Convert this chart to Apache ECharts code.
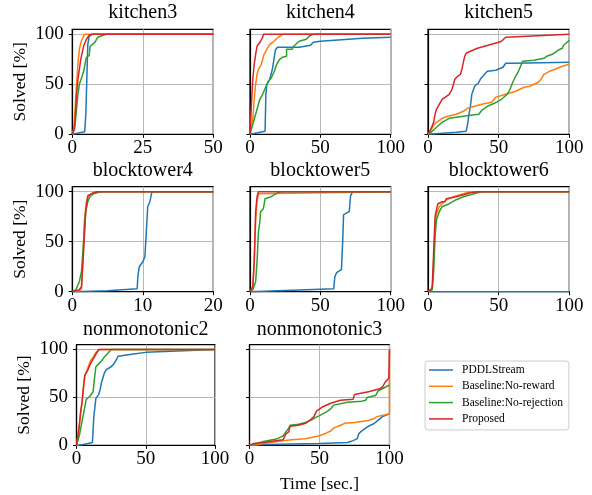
<!DOCTYPE html>
<html><head><meta charset="utf-8">
<script src="https://cdn.jsdelivr.net/npm/echarts@6/dist/echarts.min.js"></script>
<style>html,body{margin:0;padding:0;background:#fff}#c{width:592px;height:495px}</style>
</head><body><div id="c"></div>
<script>
// ---------- labels / categories ----------
const methods = ['PDDLStream', 'Baseline:No-reward', 'Baseline:No-rejection', 'Proposed'];
const panelTitles = ['kitchen3', 'kitchen4', 'kitchen5', 'blocktower4', 'blocktower5', 'blocktower6', 'nonmonotonic2', 'nonmonotonic3'];
const xMaxes = [50, 100, 100, 20, 100, 100, 100, 100];
const xIntervals = [25, 50, 50, 10, 50, 50, 50, 50];
const yTickValues = [0, 50, 100];
const yLabel = 'Solved [%]';
const xLabel = 'Time [sec.]';

// ---------- data: [time, solved %] ----------
const kitchen3_pddl = [[0,0],[4.4,2.5],[4.8,20],[5.2,60],[5.5,90],[6,98],[7,100],[50,100]];
const kitchen3_noreward = [[0,0],[0.5,5],[1,25],[1.5,50],[2,70],[2.5,85],[3.2,93],[3.8,97],[4.4,100],[50,100]];
const kitchen3_norej = [[0,0],[1,10],[2,40],[2.5,50],[3.5,58],[4.2,65],[4.5,70],[5,77],[6,79],[6.3,88],[7,90],[8,92],[9,97],[11,99],[12,100],[50,100]];
const kitchen3_prop = [[0,0],[0.8,5],[1.5,40],[2,55],[3,75],[4,88],[5,95],[6,99],[7,100],[50,100]];

const kitchen4_pddl = [[0,0],[10.7,3],[11.3,40],[12,50],[14,55],[15,60],[16,66],[17,75],[18,84],[19.5,87],[35,87],[43,89],[45,92],[50,93],[70,95],[80,96],[100,97]];
const kitchen4_noreward = [[0,0],[2,15],[3,35],[4,50],[5,60],[6,65],[8,70],[9,75],[10,80],[12,85],[14,90],[17,93],[20,97],[23,100],[100,100]];
const kitchen4_norej = [[0,0],[2,10],[3,15],[4,20],[5,25],[6,30],[7,35],[9,40],[12,50],[13,53],[15,56],[17,62],[19,70],[21,75],[23,77],[26,78],[26,85],[30,85],[31,88],[32,90],[35,93],[40,95],[42,98],[45,100],[100,100]];
const kitchen4_prop = [[0,0],[1,30],[2,55],[3,70],[4,80],[5,88],[7,92],[8,94],[9,97],[9.5,100],[100,100]];

const kitchen5_pddl = [[0,0],[10,1],[20,2],[27,3],[28,10],[29,20],[30,28],[31,40],[33,48],[35.5,51],[37,55],[40,60],[42,63],[48,64],[53,67],[55,71],[60,71],[100,72]];
const kitchen5_noreward = [[0,0],[2,4],[4,9],[6,12],[10,16],[14,18],[20,20],[25,23],[28,26],[33,28],[38,30],[45,32],[48,37],[55,40],[62,43],[68,47],[72,48],[78,52],[80,55],[82,60],[86,63],[90,65],[95,68],[100,70]];
const kitchen5_norej = [[0,0],[3,3],[6,7],[10,12],[15,16],[20,17],[25,18],[30,19],[36,20],[38,24],[42,28],[47,31],[52,35],[56,40],[58,45],[60,52],[62,58],[64,63],[67,73],[75,74],[82,76],[84,78],[88,80],[92,84],[95,86],[96,89],[100,94]];
const kitchen5_prop = [[0,0],[2,5],[4,12],[5,20],[6,25],[8,30],[10,35],[13,38],[15,40],[17,45],[18,50],[19,55],[21,58],[23,60],[24,65],[25,72],[26,78],[27,81],[30,83],[35,86],[40,88],[50,92],[52,93],[55,97],[70,98],[100,100]];

const blocktower4_pddl = [[0,0],[5,1],[9.2,3],[9.3,15],[9.5,25],[10,30],[10.3,35],[10.5,60],[10.7,85],[11,90],[11.3,100],[20,100]];
const blocktower4_noreward = [[0,0],[1,1],[1.3,3],[1.5,30],[1.7,70],[2,90],[2.3,96],[2.5,98],[3,99],[3.5,100],[20,100]];
const blocktower4_norej = [[0,0],[0.5,2],[1,10],[1.3,20],[1.6,50],[1.9,80],[2.2,90],[2.5,95],[3,98],[4,100],[20,100]];
const blocktower4_prop = [[0,0],[1,2],[1.3,5],[1.6,40],[1.9,80],[2.2,96],[2.5,97],[3,99],[3.5,100],[20,100]];

const blocktower5_pddl = [[0,0],[20,1],[40,2],[59.5,3],[60.3,15],[61.5,19],[65,22],[66,55],[66.5,77],[70.5,80],[71.5,96],[73,100],[100,100]];
const blocktower5_noreward = [[0,0],[2,5],[3,30],[4,70],[5,90],[6,98],[7,100],[100,100]];
const blocktower5_norej = [[0,0],[2,2],[4,10],[5,30],[6,60],[7,70],[7.5,80],[9.5,83],[10.7,93],[15,95],[20,99],[22,100],[100,100]];
const blocktower5_prop = [[0,0],[2,5],[3,30],[4,80],[5,95],[6,100],[100,100]];

const blocktower6_pddl = [[0,0],[100,0]];
const blocktower6_noreward = [[0,0],[3,3],[4,30],[5,65],[6,78],[8,85],[10,88],[13,92],[18,95],[25,98],[30,100],[100,100]];
const blocktower6_norej = [[0,0],[3,2],[4,20],[5,55],[6,72],[8,80],[10,85],[15,88],[20,92],[25,95],[30,97],[38,100],[100,100]];
const blocktower6_prop = [[0,0],[2,2],[3,5],[4,40],[5,75],[6,82],[7,88],[10,90],[12,90],[13,93],[20,95],[25,97],[30,99],[35,100],[100,100]];

const nonmonotonic2_pddl = [[0,0],[5,1],[11.5,3],[12.5,30],[14,49],[16,53],[17,58],[18,65],[20,75],[21.5,79],[25,82],[27,85],[29,90],[30,93],[40,95],[50,97],[100,100]];
const nonmonotonic2_noreward = [[0,0],[2,20],[3,35],[4,45],[5,60],[6,73],[8,80],[10,88],[12,92],[14,97],[17,100],[100,100]];
const nonmonotonic2_norej = [[0,0],[2,10],[4,25],[6,40],[7,48],[9.5,51],[12,56],[13,70],[14,82],[16,85],[18,88],[20,92],[22,95],[25,100],[100,100]];
const nonmonotonic2_prop = [[0,0],[2,20],[3,35],[4,45],[5,60],[6,73],[8,78],[10,85],[12,90],[14,95],[16,100],[100,100]];

const nonmonotonic3_pddl = [[0,0],[10,1],[30,1.5],[50,2],[70,3],[74,5],[77,7],[78,12],[80,15],[85,20],[88,22],[90,24],[95,30],[100,33]];
const nonmonotonic3_noreward = [[0,0],[10,2],[20,4],[30,6],[40,7],[50,10],[55,13],[58,15],[60,18],[65,21],[68,23],[75,24],[85,26],[89,28],[91,30],[100,33],[100,100]];
const nonmonotonic3_norej = [[0,0],[5,2],[10,4],[20,7],[24,10],[28,18],[29,21],[35,22],[40,24],[45,27],[47,29],[50,31],[55,35],[58,38],[60,42],[70,45],[80,46],[83,47],[84,50],[90,52],[92,57],[100,63]];
const nonmonotonic3_prop = [[0,0],[3,2],[10,3],[20,5],[24,6],[26,12],[28,14],[29,20],[35,21],[40,23],[43,26],[46,30],[48,36],[52,40],[58,44],[65,47],[74,48],[75,53],[85,56],[93,59],[95,61],[97,66],[99.5,70],[100,100]];

const panelData = [
  [kitchen3_pddl, kitchen3_noreward, kitchen3_norej, kitchen3_prop],
  [kitchen4_pddl, kitchen4_noreward, kitchen4_norej, kitchen4_prop],
  [kitchen5_pddl, kitchen5_noreward, kitchen5_norej, kitchen5_prop],
  [blocktower4_pddl, blocktower4_noreward, blocktower4_norej, blocktower4_prop],
  [blocktower5_pddl, blocktower5_noreward, blocktower5_norej, blocktower5_prop],
  [blocktower6_pddl, blocktower6_noreward, blocktower6_norej, blocktower6_prop],
  [nonmonotonic2_pddl, nonmonotonic2_noreward, nonmonotonic2_norej, nonmonotonic2_prop],
  [nonmonotonic3_pddl, nonmonotonic3_noreward, nonmonotonic3_norej, nonmonotonic3_prop]
];

// ---------- layout / style ----------
const colors = ['#1f77b4', '#ff7f0e', '#2ca02c', '#d62728'];
const FONT = "'Liberation Serif', 'Times New Roman', serif";
// [left, top, width, height]
const gridBoxes = [
  [72.3, 29.3, 141, 105], [250, 29.3, 140.7, 105], [428, 29.3, 141.3, 105],
  [72.3, 186.7, 141, 105], [250, 186.7, 140.7, 105], [428, 186.7, 141.3, 105],
  [76.5, 344.7, 138.5, 100.7], [249.5, 344.7, 140, 100.7]
];
const titleY = [13, 13, 13, 171, 171, 171, 330, 330];

const grids = [], xAxes = [], yAxes = [], series = [], graphics = [];
gridBoxes.forEach((b, p) => {
  grids.push({ left: b[0], top: b[1], width: b[2], height: b[3], show: true,
    borderColor: '#000', borderWidth: 1.2, backgroundColor: 'transparent', containLabel: false });
  const firstCol = (p % 3 === 0);
  xAxes.push({
    type: 'value', gridIndex: p, min: 0, max: xMaxes[p], interval: xIntervals[p],
    name: p === 7 ? xLabel : '', nameLocation: 'middle', nameGap: 30,
    nameTextStyle: { fontFamily: FONT, fontSize: 17.5, color: '#000' },
    axisLine: { show: true, onZero: false, lineStyle: { color: '#000', width: 1.2 } },
    axisTick: { show: true, inside: false, length: 3.5, lineStyle: { color: '#000', width: 1 } },
    axisLabel: { show: true, margin: 4.5, fontFamily: FONT, fontSize: 19, color: '#000' },
    splitLine: { show: true, lineStyle: { color: '#b8b8b8', width: 1 } }
  });
  yAxes.push({
    type: 'value', gridIndex: p, min: 0, max: 105, interval: 50,
    name: firstCol ? yLabel : '', nameLocation: 'middle', nameGap: 43, nameRotate: 90,
    nameTextStyle: { fontFamily: FONT, fontSize: 17.5, color: '#000' },
    axisLine: { show: true, onZero: false, lineStyle: { color: '#000', width: 1.2 } },
    axisTick: { show: true, inside: false, length: 3.5, customValues: yTickValues, lineStyle: { color: '#000', width: 1 } },
    axisLabel: { show: firstCol, margin: 8.5, customValues: yTickValues, fontFamily: FONT, fontSize: 19, color: '#000' },
    splitLine: { show: true, lineStyle: { color: '#b8b8b8', width: 1 } }
  });
  panelData[p].forEach((d, m) => {
    series.push({
      type: 'line', name: methods[m], xAxisIndex: p, yAxisIndex: p, data: d,
      symbol: 'none', showSymbol: false, animation: false, z: 3 + m,
      lineStyle: { width: 1.5, color: colors[m] }, itemStyle: { color: colors[m] }
    });
  });
  graphics.push({
    type: 'text', x: b[0] + b[2] / 2, y: titleY[p],
    style: { text: panelTitles[p], font: "20px 'Liberation Serif', 'Times New Roman', serif", fill: '#000', textAlign: 'center', textVerticalAlign: 'middle' }
  });
});

const chart = echarts.init(document.getElementById('c'));
chart.setOption({
  animation: false,
  backgroundColor: '#fff',
  grid: grids, xAxis: xAxes, yAxis: yAxes, series: series,
  graphic: graphics,
  legend: {
    data: methods, orient: 'vertical', left: 425, top: 361,
    icon: 'rect', itemWidth: 24, itemHeight: 1.5, itemGap: 2.3, padding: [2, 6, 4, 4],
    borderColor: '#cccccc', borderWidth: 1, borderRadius: 3, backgroundColor: '#fff',
    selectedMode: false,
    textStyle: { fontFamily: FONT, fontSize: 11.5, lineHeight: 14, color: '#000', padding: [0, 0, 0, 4] }
  }
});
</script></body></html>
